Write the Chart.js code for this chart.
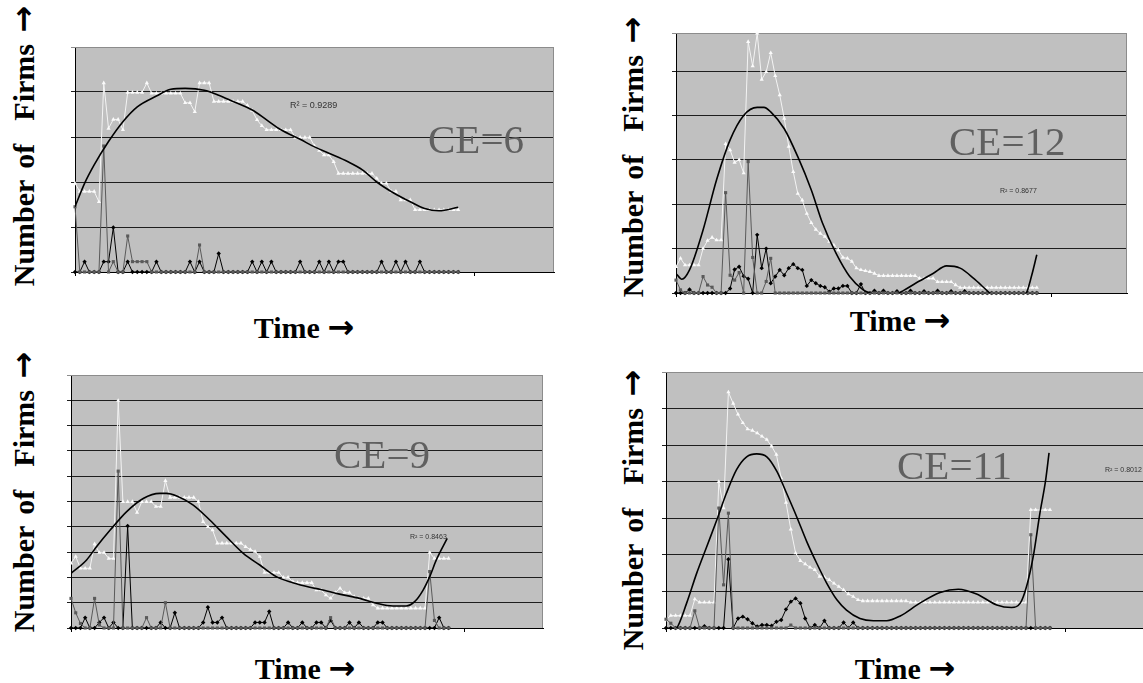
<!DOCTYPE html>
<html><head><meta charset="utf-8">
<script src="https://cdn.jsdelivr.net/npm/chart.js@4.4.1/dist/chart.umd.min.js"></script>
<style>
html,body{margin:0;padding:0;background:#fff;width:1143px;height:683px;overflow:hidden;position:relative;}
canvas{position:absolute;}
.lbl{position:absolute;font-family:"Liberation Serif","Times New Roman",serif;font-weight:bold;font-size:30px;line-height:1;white-space:pre;color:#000;z-index:5;}
.ylbl{transform:translate(-50%,-50%) rotate(-90deg);word-spacing:4px;}
.arr{font-family:"DejaVu Sans",sans-serif;font-weight:bold;font-size:32px;}
.xlbl{transform:translateX(-50%);}
.ce{position:absolute;font-family:"Liberation Serif","Times New Roman",serif;font-size:41px;line-height:1;color:#606060;white-space:nowrap;z-index:5;}
.r2{position:absolute;font-family:"Liberation Sans",Arial,sans-serif;line-height:1;color:#333;white-space:nowrap;z-index:5;}
</style></head><body>
<canvas id="c1"></canvas><canvas id="c2"></canvas><canvas id="c3"></canvas><canvas id="c4"></canvas>
<div class="lbl ylbl" style="left:23px;top:146px">Number of  Firms <span class="arr">→</span></div>
<div class="lbl ylbl" style="left:632px;top:157px">Number of  Firms <span class="arr">→</span></div>
<div class="lbl ylbl" style="left:23px;top:492px">Number of  Firms <span class="arr">→</span></div>
<div class="lbl ylbl" style="left:632px;top:510px">Number of  Firms <span class="arr">→</span></div>
<div class="lbl xlbl" style="left:304px;top:311px">Time <span class="arr">→</span></div>
<div class="lbl xlbl" style="left:900px;top:304px">Time <span class="arr">→</span></div>
<div class="lbl xlbl" style="left:305px;top:652px">Time <span class="arr">→</span></div>
<div class="lbl xlbl" style="left:905px;top:652px">Time <span class="arr">→</span></div>
<div class="ce" style="left:428px;top:119px">CE=6</div>
<div class="ce" style="left:949px;top:121px">CE=12</div>
<div class="ce" style="left:334px;top:434px">CE=9</div>
<div class="ce" style="left:897px;top:445px">CE=11</div>
<div class="r2" style="left:290px;top:101px;font-size:9px">R² = 0.9289</div>
<div class="r2" style="left:1000px;top:187px;font-size:7px">R² = 0.8677</div>
<div class="r2" style="left:410px;top:533px;font-size:7px">R² = 0.8463</div>
<div class="r2" style="left:1105px;top:466px;font-size:7px">R² = 0.8012</div>
<script>
// ---- CE = 6 ----
const ce6White = [1.97,1.79,1.79,1.79,1.79,1.56,4.2,3.19,3.39,3.39,
 3.16,3.99,3.99,3.99,3.99,4.2,3.97,3.97,3.97,3.97,
 3.97,3.97,3.97,3.76,3.76,3.56,4.2,4.2,4.2,3.79,
 3.79,3.79,3.79,3.79,3.79,3.79,3.7,3.59,3.38,3.25,
 3.16,3.16,3.16,3.16,3.16,3.16,2.99,2.99,2.99,2.99,
 2.8,2.7,2.6,2.6,2.45,2.19,2.19,2.19,2.19,2.19,
 2.19,2.19,2.19,2.08,1.97,1.97,1.79,1.79,1.6,1.6,
 1.6,1.38,1.38,1.38,1.38,1.38,1.38,1.38,1.38,1.38,
 1.38];
const ce6Gray = [1.45,0,0,0,0,0,2.8,0,0.23,0,
 0,0.8,0.23,0.23,0.23,0.23,0,0,0,0,
 0,0,0,0,0,0,0.6,0,0,0,
 0,0,0,0,0,0,0,0,0,0,
 0,0,0,0,0,0,0,0,0,0,
 0,0,0,0,0,0,0,0,0,0,
 0,0,0,0,0,0,0,0,0,0,
 0,0,0,0,0,0,0,0,0,0,
 0];
const ce6Black = [0,0,0.23,0,0,0,0.23,0.23,0.99,0,
 0,0.23,0,0,0,0,0,0.23,0,0,
 0,0,0,0,0.23,0,0.23,0,0,0,
 0.41,0,0,0,0,0,0,0.23,0,0.23,
 0,0.23,0,0,0,0,0,0.23,0,0,
 0,0.23,0,0.23,0,0.23,0.23,0,0,0,
 0,0,0,0,0.23,0,0,0.23,0,0.23,
 0,0,0.23,0,0,0,0,0,0,0,
 0];
const ce6TrendT = [0,2,4,7,10,13,17,20,23,27,30,33,37,40,43,47,50,53,57,60,63,66,70,73,76,80];
const ce6TrendV = [1.45,1.97,2.38,2.9,3.34,3.67,3.91,4.06,4.08,4.04,3.93,3.79,3.6,3.38,3.16,2.95,2.78,2.64,2.45,2.27,2.0,1.79,1.56,1.41,1.36,1.44];

// ---- CE = 12 ----
const ce12White = [0.59,0.78,0.63,0.63,0.63,0.63,1.0,1.18,1.25,1.19,
 1.19,3.36,3.22,2.94,3.0,2.7,5.66,5.11,5.85,4.81,
 4.98,5.41,4.89,4.46,3.93,3.3,2.73,2.24,2.09,1.79,
 1.58,1.43,1.34,1.27,1.16,1.08,0.97,0.8,0.78,0.71,
 0.56,0.52,0.5,0.48,0.44,0.39,0.39,0.39,0.39,0.39,
 0.39,0.39,0.39,0.39,0.33,0.33,0.33,0.33,0.25,0.25,
 0.25,0.25,0.18,0.12,0.12,0.12,0.12,0.12,0.12,0.12,
 0.12,0.12,0.12,0.12,0.12,0.12,0.12,0.12,0.12,0.12,
 0.12];
const ce12Gray = [0.29,0.07,0,0,0,0,0.37,0.18,0.13,0,
 0,2.26,0.4,0.29,0.46,0,2.96,0.8,0,0,
 0.26,0.78,0,0,0,0,0,0,0,0,
 0,0,0,0,0,0,0,0,0,0,
 0,0,0,0,0,0,0,0,0,0,
 0,0,0,0,0,0,0,0,0,0,
 0,0,0,0,0,0,0,0,0,0,
 0,0,0,0,0,0,0,0,0,0,
 0];
const ce12Black = [0,0,0,0.08,0,0,0,0,0,0,
 0,0,0.1,0.53,0.59,0.38,0.32,0,1.31,0.56,
 1.0,0.22,0.37,0.52,0.4,0.56,0.65,0.56,0.52,0.16,
 0.29,0.22,0.16,0.13,0.03,0.1,0.1,0.16,0.16,0,
 0,0.2,0,0,0.05,0,0.05,0,0,0.04,
 0,0,0.05,0,0,0.04,0,0,0.05,0,
 0,0.04,0,0,0.04,0,0,0,0,0,
 0,0,0,0,0,0,0,0,0,0,
 0];
const ce12TrendT = [0,1.3,3,6,9,12,15,18,19.5,21,24,27,30,32.5,35.5,38.5,41.5,43,46,49,50.5,53.3,57,60,63,66,69.6,73,75.5,77.7,78.8,80];
const ce12TrendV = [0.44,0.31,0.52,1.42,2.55,3.45,4.0,4.18,4.18,4.08,3.7,3.07,2.32,1.57,0.89,0.37,0.07,0,-0.05,-0.02,0.06,0.23,0.44,0.61,0.56,0.33,0,-0.25,-0.2,0,0.37,0.86];

// ---- CE = 9 ----
const ce9White = [2.56,2.82,2.36,2.36,2.36,3.32,2.98,2.98,2.75,2.75,
 8.99,4.99,4.99,4.99,4.56,4.99,4.99,4.99,4.8,4.8,
 5.82,5.16,5.16,5.16,5.16,5.16,5.16,4.99,4.2,4.0,
 3.87,3.35,3.35,3.35,3.35,3.35,3.35,3.21,3.1,3.02,
 2.82,2.19,2.19,2.19,2.19,2.0,2.0,1.83,1.79,1.79,
 1.79,1.79,1.5,1.5,1.3,1.17,1.4,1.57,1.4,1.4,
 1.24,1.17,1.17,1.17,0.91,0.78,0.78,0.78,0.78,0.78,
 0.78,0.78,0.78,0.78,0.78,0.78,2.98,2.75,2.75,2.75,
 2.75];
const ce9Gray = [1.17,0.6,0.18,0,0,1.17,0.12,0,0,0,
 6.2,0,0,0,0,0,0.41,0,0,0,
 1.0,0,0,0,0,0,0,0,0,0,
 0,0,0,0,0,0,0,0,0,0,
 0,0,0,0,0,0,0,0,0,0,
 0,0,0,0,0,0.41,0,0,0,0,
 0,0,0,0,0,0,0,0,0,0,
 0,0,0,0,0,0,2.23,0.3,0,0,
 0];
const ce9Black = [0,0,0,0.41,0,0,0.22,0.41,0,0.22,
 0,0,4.03,0,0,0,0,0,0,0.22,
 0,0,0.6,0,0,0,0,0,0.22,0.82,
 0.22,0.22,0.41,0,0,0,0,0,0,0.22,
 0.22,0.22,0.65,0,0,0,0.22,0,0,0.22,
 0,0,0.22,0.22,0,0.3,0,0,0,0.22,
 0,0.22,0,0,0,0.22,0.22,0,0,0,
 0,0,0,0,0,0,0,0,0.41,0,
 0];
const ce9TrendT = [0,3.3,5.4,8.3,11.8,15.3,18.8,20.2,22.4,25.9,29.4,32.9,36.5,40,43.5,47,50.6,52.7,56.9,61.2,64.7,68.2,71,72.8,74.6,76,77.4,79.7];
const ce9TrendV = [2.16,2.69,3.21,3.87,4.6,5.12,5.32,5.32,5.22,4.86,4.27,3.61,2.95,2.49,2.03,1.79,1.61,1.53,1.34,1.17,0.98,0.87,0.87,1.04,1.5,2.03,2.69,3.54];

// ---- CE = 11 ----
const ce11White = [0.22,0.34,0.34,0.34,0.34,0.34,0.79,0.7,0.7,0.7,
 0.7,4.0,3.28,6.45,6.14,5.84,5.61,5.44,5.4,5.33,
 5.24,5.15,4.97,4.74,4.1,3.43,2.7,2.05,1.84,1.75,
 1.66,1.59,1.41,1.39,1.32,1.22,1.13,1.04,0.93,0.86,
 0.77,0.74,0.74,0.74,0.74,0.74,0.74,0.74,0.74,0.74,
 0.74,0.7,0.7,0.7,0.7,0.7,0.7,0.7,0.7,0.7,
 0.7,0.7,0.7,0.7,0.7,0.7,0.7,0.7,0.7,0.7,
 0.7,0.7,0.7,0.7,0.7,0.7,3.23,3.23,3.23,3.23,
 3.23];
const ce11Gray = [0.24,0.13,0,0,0,0,0.47,0,0,0,
 0,3.28,1.18,3.14,0,0,0,0,0,0,
 0,0,0,0,0,0,0.08,0,0,0,
 0,0,0,0,0,0,0,0,0,0,
 0,0,0,0,0,0,0,0,0,0,
 0,0,0,0,0,0,0,0,0,0,
 0,0,0,0,0,0,0,0,0,0,
 0,0,0,0,0,0,2.55,0,0,0,
 0];
const ce11Black = [0,0,0,0,0,0,0,0,0.05,0,
 0,0,0,1.88,0,0.26,0.31,0.24,0.13,0.04,
 0.08,0.08,0.06,0.17,0.22,0.51,0.72,0.81,0.68,0.26,
 0,0.08,0,0.2,0,0,0,0.15,0,0.15,
 0,0,0,0,0,0,0,0,0,0,
 0,0,0,0,0,0,0,0,0,0,
 0,0,0,0,0,0,0,0,0,0,
 0,0,0,0,0,0,0,0,0,0,
 0];
const ce11TrendT = [0,2.2,4.3,6.4,8.5,10.6,12.6,14.7,16.8,18.9,21,23.1,25.1,27.2,29.3,31.4,33.5,35.6,37.6,40.4,43.2,46,48.8,52.9,57.1,60.9,64.7,68.9,72,73.8,75.1,76.5,77.9,79.1,79.8];
const ce11TrendV = [-0.15,-0.01,0.68,1.5,2.23,2.96,3.69,4.33,4.68,4.76,4.68,4.28,3.69,3.05,2.37,1.77,1.22,0.77,0.49,0.26,0.2,0.2,0.33,0.68,0.97,1.06,0.93,0.63,0.56,0.68,1.13,1.95,3.14,4.05,4.79];

const timeAxisMax = 100;
const timeTickMarks = [0, 83.3];

const plotFrame = {
  id: 'plotFrame',
  beforeDraw(chart) {
    const {ctx, chartArea: a} = chart;
    ctx.save();
    ctx.fillStyle = '#c0c0c0';
    ctx.fillRect(a.left, a.top, a.right - a.left, a.bottom - a.top);
    ctx.restore();
  },
  beforeDatasetsDraw(chart) {
    const {ctx, chartArea: a} = chart;
    ctx.save();
    ctx.strokeStyle = '#8c8c8c';
    ctx.lineWidth = 1;
    ctx.beginPath();
    ctx.moveTo(a.left, Math.round(a.top) + 0.5);
    ctx.lineTo(Math.round(a.right) - 0.5, Math.round(a.top) + 0.5);
    ctx.lineTo(Math.round(a.right) - 0.5, a.bottom);
    ctx.stroke();
    ctx.restore();
  }
};

function pts(vals) { return vals.map((v, i) => ({x: i, y: v})); }
function tpts(t, v) { return t.map((x, k) => ({x: x, y: v[k]})); }

function makePanel(id, L, T, R, B, yMax, white, gray, black, trendT, trendV) {
  const cv = document.getElementById(id);
  const w = R - L + 11, h = B - T + 11;
  cv.width = w; cv.height = h;
  cv.style.left = (L - 5) + 'px'; cv.style.top = (T - 6) + 'px';
  cv.style.width = w + 'px'; cv.style.height = h + 'px';
  new Chart(cv, {
    type: 'line',
    data: {
      datasets: [
        {label: 'Trend', data: tpts(trendT, trendV), borderColor: '#000', borderWidth: 1.6,
         pointRadius: 0, cubicInterpolationMode: 'monotone', fill: false},
        {label: 'Series B', data: pts(gray), borderColor: '#5a5a5a', borderWidth: 1,
         pointStyle: 'rect', pointRadius: 2.2, pointBackgroundColor: '#5a5a5a', pointBorderColor: '#5a5a5a',
         pointBorderWidth: 0, tension: 0, clip: false},
        {label: 'Series C', data: pts(black), borderColor: '#000', borderWidth: 1,
         pointStyle: 'rectRot', pointRadius: 2.2, pointBackgroundColor: '#000', pointBorderColor: '#000',
         pointBorderWidth: 0, tension: 0, clip: false},
        {label: 'Series A', data: pts(white), borderColor: '#f4f4f4', borderWidth: 1,
         pointStyle: 'triangle', pointRadius: 2.4, pointBackgroundColor: '#fbfbfb', pointBorderColor: '#fbfbfb',
         pointBorderWidth: 0, tension: 0, clip: false}
      ]
    },
    options: {
      responsive: false, animation: false, events: [],
      devicePixelRatio: 1,
      layout: {padding: {top: 6, right: 6, left: 0, bottom: 0}, autoPadding: false},
      plugins: {legend: {display: false}, tooltip: {enabled: false}},
      scales: {
        x: {type: 'linear', min: 0, max: timeAxisMax,
            ticks: {display: false},
            afterBuildTicks: s => { s.ticks = timeTickMarks.map(v => ({value: v})); },
            afterFit: s => { s.height = 5; },
            grid: {drawOnChartArea: false, drawTicks: true, tickLength: 4, color: '#000'},
            border: {display: true, color: '#000', width: 1}},
        y: {type: 'linear', min: 0, max: yMax,
            ticks: {display: false, stepSize: 1},
            afterFit: s => { s.width = 5; },
            grid: {drawTicks: true, tickLength: 4,
                   color: c => (c.tick && Math.abs(c.tick.value - yMax) < 1e-6) ? '#8c8c8c' : '#1e1e1e'},
            border: {display: true, color: '#000', width: 1}}
      }
    },
    plugins: [plotFrame]
  });
}

makePanel('c1', 75, 47, 554, 272, 5, ce6White, ce6Gray, ce6Black, ce6TrendT, ce6TrendV);
makePanel('c2', 676, 33, 1127, 293, 5.856, ce12White, ce12Gray, ce12Black, ce12TrendT, ce12TrendV);
makePanel('c3', 71, 375, 543, 628, 10, ce9White, ce9Gray, ce9Black, ce9TrendT, ce9TrendV);
makePanel('c4', 666, 372, 1146, 628, 7, ce11White, ce11Gray, ce11Black, ce11TrendT, ce11TrendV);
</script>
</body></html>
